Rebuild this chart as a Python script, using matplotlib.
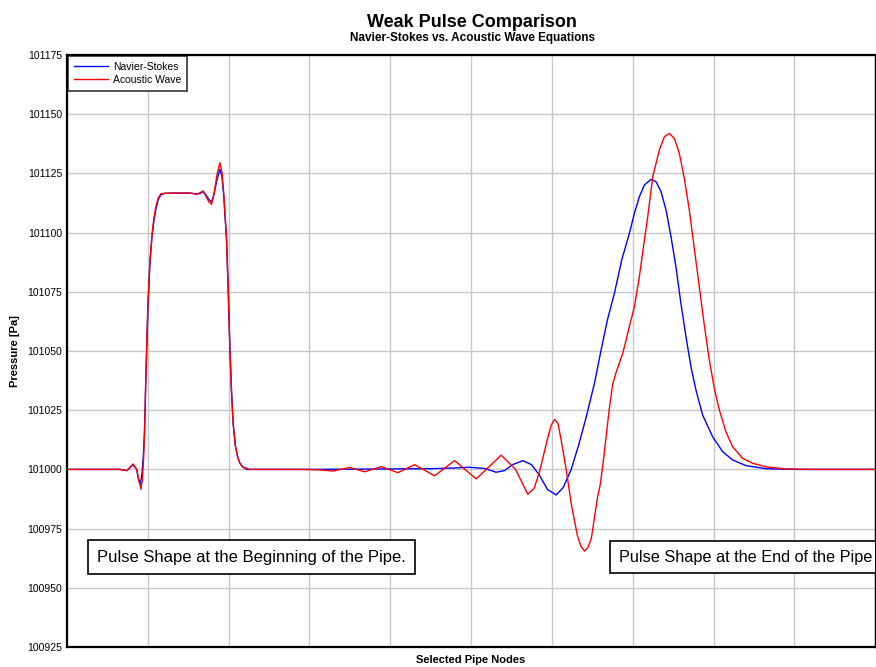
import matplotlib
matplotlib.use("Agg")
import matplotlib.pyplot as plt

plt.rcParams["font.family"] = ["Liberation Sans", "DejaVu Sans"]

# node position (0-100 across the pipe selection) and pressure [Pa]
ns_x = [0, 4.08, 6.55, 7.42, 8.16, 8.62, 8.84, 9.09, 9.27, 9.43, 9.58, 9.77,
        10.01, 10.26, 10.51, 10.75, 11.00, 11.29, 11.62, 12.11, 13.35, 15.2,
        16.07, 16.44, 16.85, 17.18, 17.55, 17.89, 18.17, 18.54, 18.91, 19.16,
        19.41, 19.74, 19.96, 20.15, 20.36, 20.56, 20.83, 21.14, 21.38, 21.75,
        22.25, 30.0, 40.0, 45.0, 47.96, 49.81, 51.67, 53.11, 54.14, 55.13,
        56.40, 57.48, 58.47, 59.46, 60.53, 61.43, 62.39, 63.29, 64.24, 65.27,
        66.09, 66.87, 67.74, 68.64, 69.59, 70.21, 70.83, 71.45, 72.27, 72.89,
        73.51, 74.13, 74.74, 75.35, 75.97, 76.59, 77.21, 77.83, 78.65, 79.89,
        81.13, 82.36, 84.02, 86.49, 90.6, 100]
ns_p = [101000, 101000, 101000, 100999.5, 101002, 101000, 100996, 100994,
        100998, 101005, 101015, 101040, 101068, 101087, 101098, 101105,
        101110, 101114, 101116, 101116.6, 101116.7, 101116.7, 101116.3,
        101116.5, 101117.3, 101116, 101114, 101113, 101116, 101122, 101126.7,
        101124, 101115, 101097, 101075, 101052, 101033, 101019.6, 101010,
        101005, 101002.7, 101001, 101000, 101000, 101000.2, 101000.3,
        101000.6, 101000.9, 101000.4, 100998.8, 100999.5, 101002, 101003.7,
        101002, 100997.5, 100991.5, 100989.2, 100992.5, 101000, 101010,
        101022, 101036.4, 101050.4, 101063.1, 101074.4, 101088.4, 101099.7,
        101108.1, 101115.2, 101120.1, 101122.5, 101121.5, 101117.3, 101109.5,
        101098.3, 101085.6, 101070.1, 101056.1, 101043.4, 101033.5, 101023,
        101013.8, 101007.5, 101004, 101001.6, 101000.3, 101000, 101000]

aw_x = [0, 4.08, 6.55, 7.42, 8.16, 8.62, 8.84, 9.15, 9.33, 9.47, 9.60, 9.77,
        10.01, 10.26, 10.51, 10.75, 11.00, 11.29, 11.62, 12.11, 13.35, 15.2,
        16.07, 16.44, 16.85, 17.18, 17.55, 17.89, 18.17, 18.54, 18.91, 19.16,
        19.41, 19.74, 19.96, 20.15, 20.36, 20.56, 20.83, 21.14, 21.38, 21.75,
        22.62, 28.80, 31.27, 32.88, 34.98, 36.84, 38.90, 40.95, 43.02, 45.49,
        47.96, 50.64, 53.73, 55.50, 57.02, 57.80, 58.47, 59.46, 59.90, 60.32,
        60.75, 61.06, 61.77, 62.42, 63.16, 63.60, 64.03, 64.46, 64.89, 65.64,
        66.01, 66.38, 66.75, 67.12, 67.53, 67.95, 68.77, 69.59, 70.21, 70.83,
        71.45, 71.86, 72.48, 73.30, 73.92, 74.54, 75.15, 75.77, 76.39, 77.01,
        77.62, 78.24, 78.86, 79.48, 80.10, 80.72, 81.54, 82.36, 83.60, 84.83,
        86.48, 88.95, 92.0, 100]
aw_p = [101000, 101000, 101000, 100999.5, 101002.3, 101000, 100996, 100991.6,
        100996, 101004, 101016, 101041, 101070, 101088, 101099, 101106,
        101111, 101114.6, 101116.4, 101116.6, 101116.7, 101116.7, 101116.2,
        101116.8, 101117.6, 101115.5, 101113, 101112, 101116, 101124,
        101129.5, 101126, 101116, 101097, 101074, 101051, 101032, 101019,
        101010, 101005, 101002.7, 101001, 101000, 101000, 100999.8,
        100999.3, 101000.8, 100999, 101001.2, 100998.6, 101002, 100997.3,
        101003.7, 100996, 101006, 101000, 100989.5, 100992, 100999, 101013,
        101018.5, 101021.1, 101019.5, 101014, 101000, 100985, 100972,
        100967.5, 100965.5, 100967, 100971, 100988, 100994, 101004, 101015,
        101026, 101036, 101041, 101049, 101060.3, 101068.7, 101081.4,
        101096.9, 101106.7, 101123.6, 101134.9, 101140.5, 101141.9,
        101139.8, 101133.5, 101122.9, 101109.5, 101093.4, 101077.2, 101061,
        101046.2, 101034.2, 101025.1, 101015.9, 101009.6, 101004.7, 101002.6,
        101001.1, 101000.2, 101000, 101000]

y_ticks = [100925, 100950, 100975, 101000, 101025, 101050, 101075, 101100,
           101125, 101150, 101175]
x_ticks = list(range(0, 101, 10))

fig = plt.figure(figsize=(8.76, 6.67), dpi=100)
ax = fig.add_axes([0.0765, 0.030, 0.9225, 0.8875])

ax.plot(ns_x, ns_p, color="#0000ff", lw=1.0, label="Navier-Stokes", zorder=3)
ax.plot(aw_x, aw_p, color="#ff0000", lw=1.0, label="Acoustic Wave", zorder=3)

ax.set_xlim(0, 100)
ax.set_ylim(100925, 101175)
ax.set_xticks(x_ticks)
ax.set_xticklabels([])
ax.set_yticks(y_ticks)
ax.set_yticklabels([str(v) for v in y_ticks], fontsize=7.5)
ax.tick_params(length=0, pad=3.5)
ax.grid(True, color="#c8c8c8", lw=1.0)
ax.set_axisbelow(True)
for side in ("left", "bottom", "top"):
    ax.spines[side].set_linewidth(1.6)
ax.spines["right"].set_linewidth(1.0)

ax.set_ylabel("Pressure [Pa]", fontsize=8, fontweight="bold", labelpad=5)
ax.set_xlabel("Selected Pipe Nodes", fontsize=8, fontweight="bold", labelpad=2)

fig.text(0.539, 0.967, "Weak Pulse Comparison", ha="center", va="center",
         fontsize=13, fontweight="bold")
fig.text(0.539, 0.943, "Navier-Stokes vs. Acoustic Wave Equations",
         ha="center", va="center", fontsize=8.5, fontweight="bold")

leg = ax.legend(loc="upper left", fontsize=7.5, frameon=True, fancybox=False,
                borderaxespad=0.1, handlelength=3.3, handletextpad=0.5,
                borderpad=0.55, labelspacing=0.3)
leg.get_frame().set_edgecolor("black")
leg.get_frame().set_linewidth(1.2)

box = dict(boxstyle="square,pad=0.55", facecolor="white", edgecolor="black", lw=1.2)
ax.text(3.75, 100963, "Pulse Shape at the Beginning of the Pipe.", fontsize=12,
        va="center", ha="left", bbox=box, zorder=5)
ax.text(68.3, 100963, "Pulse Shape at the End of the Pipe", fontsize=11.7,
        va="center", ha="left", bbox=box, zorder=5, clip_on=True)

fig.savefig("out.png", dpi=100)
